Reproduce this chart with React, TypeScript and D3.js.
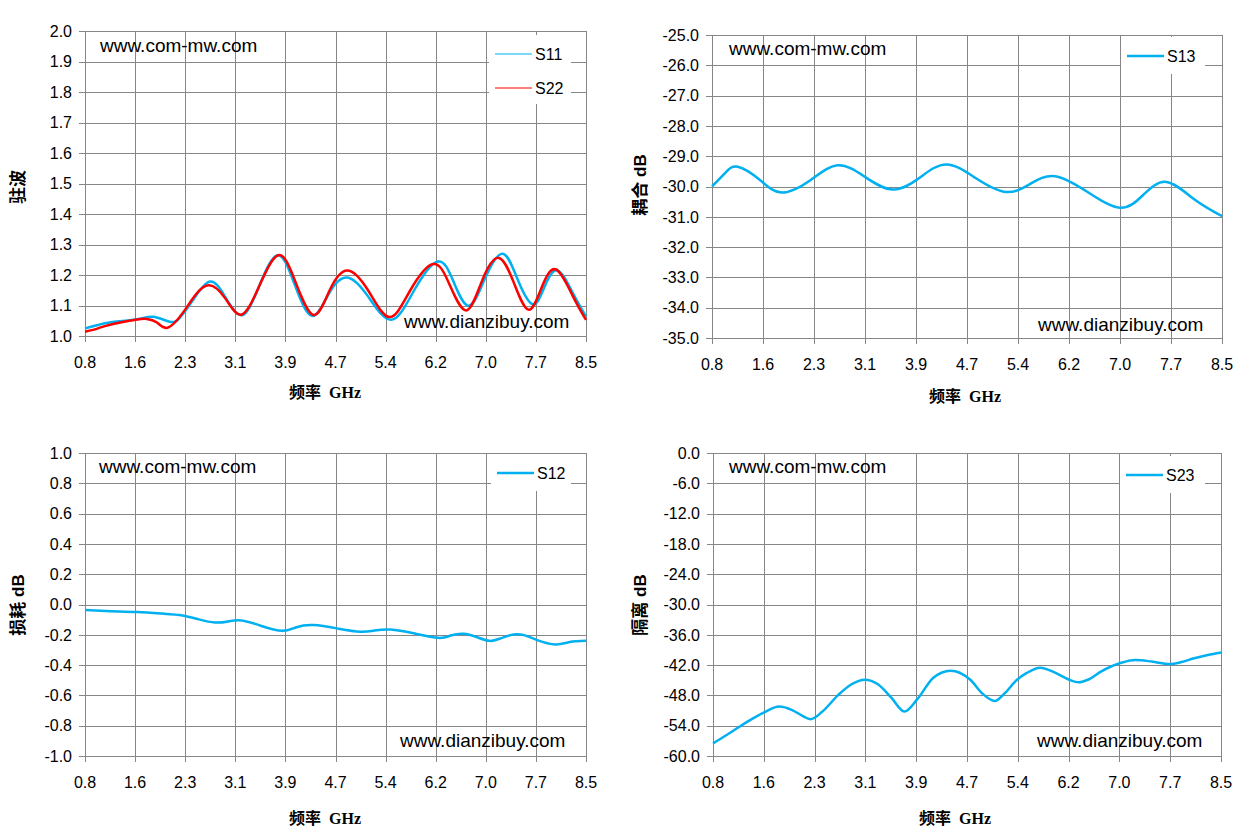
import React from 'react';
import * as d3 from 'd3';

// ---- data ----
const xTickLabels = ['0.8', '1.6', '2.3', '3.1', '3.9', '4.7', '5.4', '6.2', '7.0', '7.7', '8.5'];

const s11: [number, number][] = [
  [0.8, 1.025], [1.0, 1.036], [1.2, 1.045], [1.6, 1.055], [1.85, 1.063], [2.1, 1.047], [2.25, 1.058],
  [2.45, 1.115], [2.71, 1.178], [2.95, 1.13], [3.21, 1.068], [3.47, 1.16], [3.76, 1.265], [4.02, 1.17],
  [4.29, 1.066], [4.55, 1.14], [4.83, 1.192], [5.15, 1.13], [5.51, 1.053], [5.86, 1.15], [6.22, 1.244],
  [6.46, 1.18], [6.7, 1.099], [6.95, 1.19], [7.22, 1.27], [7.45, 1.185], [7.68, 1.104], [7.86, 1.16],
  [8.06, 1.215], [8.3, 1.14], [8.5, 1.064],
];

const s22: [number, number][] = [
  [0.8, 1.014], [1.0, 1.025], [1.2, 1.038], [1.6, 1.054], [1.75, 1.056], [1.9, 1.045], [2.07, 1.027],
  [2.3, 1.075], [2.5, 1.135], [2.71, 1.166], [2.95, 1.125], [3.2, 1.07], [3.47, 1.16], [3.77, 1.265],
  [4.03, 1.18], [4.31, 1.069], [4.56, 1.15], [4.83, 1.215], [5.15, 1.15], [5.48, 1.062], [5.8, 1.15],
  [6.15, 1.236], [6.4, 1.17], [6.66, 1.084], [6.9, 1.18], [7.16, 1.256], [7.4, 1.17], [7.62, 1.086],
  [7.82, 1.16], [8.04, 1.218], [8.3, 1.13], [8.5, 1.053],
];

const s13: [number, number][] = [
  [0.8, -30.0], [1.0, -29.55], [1.19, -29.35], [1.52, -29.78], [1.85, -30.2], [2.28, -29.8], [2.7, -29.3],
  [3.12, -29.7], [3.54, -30.1], [3.94, -29.7], [4.34, -29.27], [4.78, -29.72], [5.23, -30.18],
  [5.6, -29.92], [5.98, -29.66], [6.47, -30.18], [6.96, -30.7], [7.31, -30.28], [7.66, -29.85],
  [8.08, -30.42], [8.5, -30.98],
];

const s12: [number, number][] = [
  [0.8, -0.037], [1.2, -0.044], [1.6, -0.05], [2.0, -0.06], [2.3, -0.072], [2.55, -0.098], [2.8, -0.119],
  [3.0, -0.112], [3.21, -0.105], [3.5, -0.14], [3.83, -0.174], [4.05, -0.15], [4.32, -0.136],
  [4.7, -0.16], [5.03, -0.18], [5.25, -0.172], [5.5, -0.165], [5.85, -0.19], [6.23, -0.22],
  [6.42, -0.205], [6.62, -0.193], [6.82, -0.215], [7.02, -0.24], [7.17, -0.226], [7.28, -0.21],
  [7.39, -0.198], [7.56, -0.204], [7.75, -0.235], [8.03, -0.264], [8.25, -0.248], [8.5, -0.24],
];

const s23: [number, number][] = [
  [0.8, -57.5], [1.0, -55.9], [1.2, -54.2], [1.4, -52.6], [1.6, -51.2], [1.8, -50.2], [2.0, -50.9],
  [2.15, -52.0], [2.28, -52.7], [2.45, -51.3], [2.7, -47.9], [2.9, -45.8], [3.1, -44.9], [3.3, -45.8],
  [3.5, -48.4], [3.7, -51.2], [3.9, -48.7], [4.14, -44.5], [4.4, -43.1], [4.7, -44.9], [4.88, -47.6],
  [5.07, -49.1], [5.22, -47.6], [5.4, -45.0], [5.55, -43.6], [5.76, -42.5], [6.0, -43.6], [6.2, -44.9],
  [6.34, -45.4], [6.5, -44.8], [6.68, -43.3], [7.0, -41.5], [7.2, -41.0], [7.45, -41.3], [7.72, -41.8],
  [7.9, -41.4], [8.08, -40.7], [8.3, -40.0], [8.5, -39.5],
];

const GRID = '#868686';
const BLUE = '#00b0f0';
const RED = '#ff0000';
const SANS = '"Liberation Sans", Arial, sans-serif';

type Series = { name: string; data: [number, number][]; color: string };

type PanelProps = {
  left: number; right: number; top: number; bottom: number;
  yDomain: [number, number]; yTicks: number[]; yFmt: (v: number) => string;
  series: Series[]; curve?: d3.CurveFactory;
  yTitle: string; yTitleX: number; yTitleY: number; serifTitle?: boolean;
  xTitleX: number; xTitleY: number;
  legend: { x: number; y: number; w: number; h: number; thin?: boolean };
  wmTop: [number, number]; wmBottom: [number, number];
};

const Panel: React.FC<PanelProps> = (p) => {
  const x = d3.scaleLinear().domain([0.8, 8.5]).range([p.left, p.right]);
  const y = d3.scaleLinear().domain(p.yDomain).range([p.bottom, p.top]);
  const line = d3.line<[number, number]>().x(d => x(d[0])).y(d => y(d[1])).curve(p.curve || d3.curveNatural);
  const xTicks = xTickLabels.map((_, i) => 0.8 + i * 0.77);
  const lg = p.legend;
  return (
    <g>
      {p.yTicks.map(t => (
        <g key={'y' + t}>
          <line x1={p.left - 6} x2={p.right} y1={Math.round(y(t)) + 0.5} y2={Math.round(y(t)) + 0.5} stroke={GRID} strokeWidth={1} />
          <text x={p.left - 13} y={y(t)} dy="0.36em" textAnchor="end" fontFamily={SANS} fontSize={16} fill="#000">
            {p.yFmt(t)}
          </text>
        </g>
      ))}
      {xTicks.map((t, i) => (
        <g key={'x' + i}>
          <line x1={Math.round(x(t)) + 0.5} x2={Math.round(x(t)) + 0.5} y1={p.top} y2={p.bottom + 6} stroke={GRID} strokeWidth={1} />
          <text x={x(t)} y={p.bottom + 26} dy="0.36em" textAnchor="middle" fontFamily={SANS} fontSize={16} fill="#000">
            {xTickLabels[i]}
          </text>
        </g>
      ))}
      <text x={p.wmTop[0]} y={p.wmTop[1]} fontFamily={SANS} fontSize={19} fill="#000">www.com-mw.com</text>
      <text x={p.wmBottom[0]} y={p.wmBottom[1]} fontFamily={SANS} fontSize={19} fill="#000">www.dianzibuy.com</text>
      {p.series.map(s => (
        <path key={s.name} d={line(s.data) || ''} fill="none" stroke={s.color} strokeWidth={2.5} strokeLinejoin="round" />
      ))}
      <rect x={lg.x} y={lg.y} width={lg.w} height={lg.h} fill="#fff" />
      {p.series.map((s, i) => (
        <g key={'lg' + s.name}>
          <line x1={lg.x + 6} x2={lg.x + 43} y1={lg.y + 19 + i * 34} y2={lg.y + 19 + i * 34}
            stroke={s.color} strokeWidth={lg.thin ? 1.2 : 2.5} />
          <text x={lg.x + 46} y={lg.y + 19 + i * 34} dy="0.36em" fontFamily={SANS} fontSize={16} fill="#000">{s.name}</text>
        </g>
      ))}
      <text transform={`translate(${p.yTitleX},${p.yTitleY}) rotate(-90)`} textAnchor="middle" dy="0.36em"
        fontFamily={p.serifTitle ? '"Noto Sans CJK SC", serif' : `${SANS}, "Noto Sans CJK SC"`}
        fontWeight="bold" fontSize={17} fill="#000">
        {p.yTitle}
      </text>
      <text x={p.xTitleX} y={p.xTitleY} textAnchor="middle" dy="0.36em" style={{ whiteSpace: 'pre' }}
        fontFamily='"Liberation Serif", "Noto Sans CJK SC", serif' fontWeight="bold" fontSize={16} fill="#000">
        {'频率  GHz'}
      </text>
    </g>
  );
};

const rng = (a: number, b: number, s: number) => d3.range(0, Math.round((b - a) / s) + 1).map(i => +(a + i * s).toFixed(4));

const App: React.FC = () => {
  return (
    <svg width={1251} height={838} style={{ position: 'absolute', left: 0, top: 0, background: '#fff' }}>
      <rect width={1251} height={838} fill="#fff" />
      <Panel left={85} right={586} top={31} bottom={336}
        yDomain={[1.0, 2.0]} yTicks={rng(1.0, 2.0, 0.1)} yFmt={v => v.toFixed(1)}
        series={[{ name: 'S11', data: s11, color: BLUE }, { name: 'S22', data: s22, color: RED }]}
        yTitle="驻波" yTitleX={18} yTitleY={187} serifTitle
        xTitleX={325} xTitleY={392}
        legend={{ x: 489, y: 35, w: 82, h: 69, thin: true }}
        wmTop={[100, 52]} wmBottom={[404, 328]} />
      <Panel left={712} right={1222} top={35} bottom={338}
        yDomain={[-35, -25]} yTicks={rng(-35, -25, 1)} yFmt={v => v.toFixed(1)}
        series={[{ name: 'S13', data: s13, color: BLUE }]}
        yTitle="耦合 dB" yTitleX={640} yTitleY={185}
        xTitleX={965} xTitleY={396}
        legend={{ x: 1121, y: 37, w: 84, h: 37 }}
        wmTop={[729, 55]} wmBottom={[1038, 331]} />
      <Panel left={85} right={586} top={453} bottom={756}
        yDomain={[-1, 1]} yTicks={rng(-1, 1, 0.2)} yFmt={v => v.toFixed(1)}
        series={[{ name: 'S12', data: s12, color: BLUE }]}
        yTitle="损耗 dB" yTitleX={18} yTitleY={605}
        xTitleX={325} xTitleY={818}
        legend={{ x: 491, y: 454, w: 80, h: 37 }}
        wmTop={[99, 473]} wmBottom={[400, 747]} />
      <Panel left={713} right={1221} top={453} bottom={756}
        yDomain={[-60, 0]} yTicks={rng(-60, 0, 6)} yFmt={v => v.toFixed(1)}
        series={[{ name: 'S23', data: s23, color: BLUE }]} curve={d3.curveMonotoneX}
        yTitle="隔离 dB" yTitleX={640} yTitleY={605}
        xTitleX={955} xTitleY={818}
        legend={{ x: 1120, y: 456, w: 85, h: 37 }}
        wmTop={[729, 473]} wmBottom={[1037, 747]} />
    </svg>
  );
};

export default App;
